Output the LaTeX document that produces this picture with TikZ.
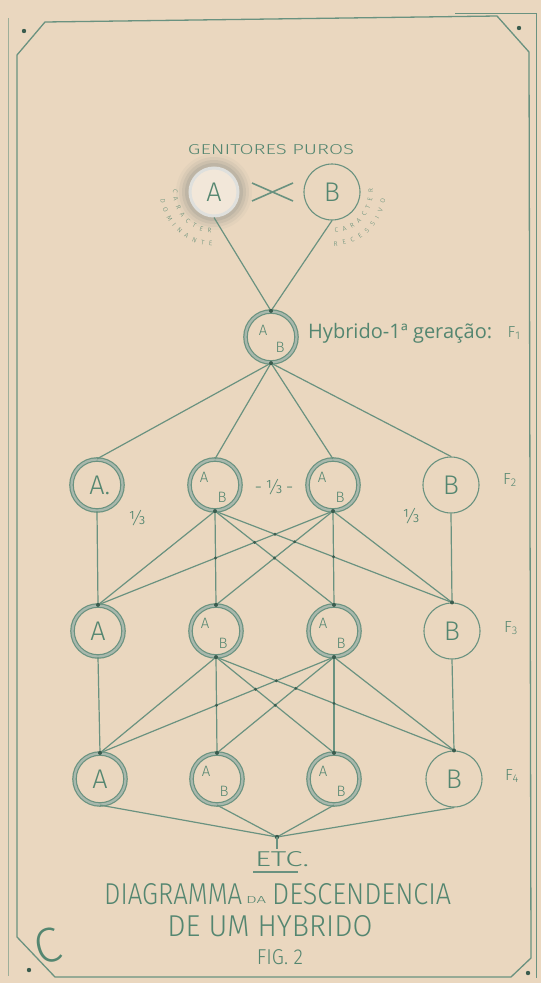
\documentclass[tikz,border=0pt]{standalone}
\usepackage{fontspec}
\setmainfont{Open Sans}
\newfontfamily\thinf{Fira Sans Light}
\usepackage{graphicx}
\usetikzlibrary{calc,decorations.text}
\definecolor{bg}{RGB}{234,215,191}
\definecolor{ln}{RGB}{106,146,128}
\definecolor{ink}{RGB}{84,134,112}
\definecolor{ringc}{RGB}{168,184,172}
\definecolor{dotc}{RGB}{58,92,78}
\definecolor{glow}{RGB}{150,152,142}
\newcommand\abnode[3]{%
  \node[ring] (#1) at (#2,#3) {};
  \node[small] (#1-a) at ($(#1)+(-11,8)$) {A};
  \node[small] (#1-b) at ($(#1)+(7,-12)$) {B};
}
\begin{document}
\begin{tikzpicture}[x=1pt,y=1pt,
  conn/.style={draw=ln, line width=1.2pt},
  frame/.style={draw=ln, line width=1.3pt, line join=round},
  ring/.style={circle, minimum size=51pt, inner sep=0pt, draw=ln, line width=1.2pt, double=ringc, double distance=2.2pt},
  plain/.style={circle, minimum size=56pt, inner sep=0pt, draw=ln, line width=1.1pt},
  big/.style={text=ink, font=\thinf\fontsize{27}{27}\selectfont, inner sep=0pt},
  small/.style={text=ink, font=\thinf\fontsize{15}{15}\selectfont, inner sep=0pt},
  lbl/.style={text=ink, inner sep=0pt, font=\thinf},
  frac/.style={text=ink, inner sep=0pt, font=\thinf\fontsize{19}{19}\selectfont},
  arctext/.style={decorate, decoration={text along path, text color=ink, text align=fit to path,
     text={|\thinf\fontsize{6.5}{6.5}\selectfont|#1}}},
]
\fill[bg] (0,0) rectangle (541,-983);
\useasboundingbox (0,0) rectangle (541,-983);

% frame
\draw[frame] (17,-55) -- (45,-22) -- (497,-16) -- (529,-52) -- (531,-958) -- (511,-977) -- (55,-977) -- (17,-937) -- cycle;
\draw[ln, line width=0.9pt] (455,-13) -- (536,-13) -- (536,-978);
\draw[ln!60!bg, line width=0.8pt] (8,-18) -- (8,-976);
\fill[dotc] (24,-31) circle[radius=2.2];
\fill[dotc] (519,-28) circle[radius=2.2];
\fill[dotc] (29,-970) circle[radius=2.2];
\fill[dotc] (528,-973) circle[radius=2.2];

% parents
\node[lbl] (gen) at (271,-150) {\resizebox{166pt}{10pt}{GENITORES PUROS}};
\foreach \r/\o in {38/0.08, 35/0.12, 32/0.18, 29/0.25}
  \fill[glow, opacity=\o] (214,-192) circle[radius=\r];
\node[circle, minimum size=48pt, inner sep=0pt, draw=white!70!glow, line width=3pt, fill=bg!60!white] (PA) at (214,-192) {};
\node[big] (PA-t) at (PA) {A};
\node[plain] (PB) at (332,-192) {};
\node[big] (PB-t) at (PB) {B};
\coordinate (x1) at (252,-183); \coordinate (x2) at (293,-201);
\coordinate (x3) at (252,-201); \coordinate (x4) at (293,-183);
\draw[conn, line width=1.6pt] (x1) -- (x2) (x3) -- (x4);

\path[arctext=CARACTER] ($(PA)+(176:41)$) arc[start angle=176, end angle=266, radius=41];
\path[arctext=DOMINANTE] ($(PA)+(188:54)$) arc[start angle=188, end angle=268, radius=54];
\path[arctext=CARACTER] ($(PB)+(274:41)$) arc[start angle=274, end angle=364, radius=41];
\path[arctext=RECESSIVO] ($(PB)+(272:54)$) arc[start angle=272, end angle=352, radius=54];

% hybrid F1
\node[ring] (H) at (271,-337) {};
\node[small] (H-a) at (263,-330) {A};
\node[small] (H-b) at (280,-347) {B};
\node[lbl, anchor=base west, font=\rmfamily] (HT) at (308,-338) {\resizebox{184pt}{!}{Hybrido-1ª geração:}};
\node[lbl, font=\thinf\fontsize{16}{16}\selectfont] (F1) at (514,-333) {F\textsubscript{1}};

\draw[conn] (PA.south) -- (H.north);
\draw[conn] (PB.south) -- (H.north);

% F2
\node[ring] (A2) at (97,-485) {};
\node[big] (A2-t) at (A2) {A\rlap{.}};
\abnode{AB2a}{215}{-485}
\abnode{AB2b}{333}{-485}
\node[plain] (B2) at (451,-485) {};
\node[big] (B2-t) at (B2) {B};
\node[lbl, font=\thinf\fontsize{16}{16}\selectfont] (F2) at (510,-480) {F\textsubscript{2}};
\node[frac] (t1) at (137,-518) {⅓};
\node[frac] (t2) at (274,-487) {-\,⅓\,-};
\node[frac] (t3) at (411,-516) {⅓};

% F3
\node[ring] (A3) at (98,-631) {};
\node[big] (A3-t) at (A3) {A};
\abnode{AB3a}{216}{-631}
\abnode{AB3b}{334}{-631}
\node[plain] (B3) at (452,-631) {};
\node[big] (B3-t) at (B3) {B};
\node[lbl, font=\thinf\fontsize{16}{16}\selectfont] (F3) at (511,-628) {F\textsubscript{3}};

% F4
\node[ring] (A4) at (100,-779) {};
\node[big] (A4-t) at (A4) {A};
\abnode{AB4a}{217}{-779}
\abnode{AB4b}{334}{-779}
\node[plain] (B4) at (454,-779) {};
\node[big] (B4-t) at (B4) {B};
\node[lbl, font=\thinf\fontsize{16}{16}\selectfont] (F4) at (512,-776) {F\textsubscript{4}};

% H -> F2
\foreach \n in {A2,AB2a,AB2b,B2} \draw[conn] (H.south) -- (\n.north);

% F2 -> F3 and F3 -> F4
\draw[conn] (A2.south) -- (A3.north);
\draw[conn] (B2.south) -- (B3.north);
\foreach \s in {AB2a,AB2b} \foreach \t in {A3,AB3a,AB3b,B3} \draw[conn] (\s.south) -- (\t.north);
\draw[conn] (A3.south) -- (A4.north);
\draw[conn] (B3.south) -- (B4.north);
\foreach \s in {AB3a,AB3b} \foreach \t in {A4,AB4a,AB4b,B4} \draw[conn] (\s.south) -- (\t.north);

% crossing knots
\foreach \p/\q in {2/3,3/4}{
  \fill[dotc] (intersection of AB\p a.south--B\q.north and AB\p b.south--A\q.north) circle[radius=1.6];
  \fill[dotc] (intersection of AB\p a.south--AB\q b.north and AB\p b.south--A\q.north) circle[radius=1.6];
  \fill[dotc] (intersection of AB\p a.south--B\q.north and AB\p b.south--AB\q a.north) circle[radius=1.6];
  \fill[dotc] (intersection of AB\p a.south--AB\q b.north and AB\p b.south--AB\q a.north) circle[radius=1.6];
  \fill[dotc] (intersection of AB\p a.south--AB\q a.north and AB\p b.south--A\q.north) circle[radius=1.6];
  \fill[dotc] (intersection of AB\p b.south--AB\q b.north and AB\p a.south--B\q.north) circle[radius=1.6];
}

% junction dots
\foreach \a in {H.north,H.south,AB2a.south,AB2b.south,A3.north,AB3a.north,AB3b.north,B3.north,AB3a.south,AB3b.south,A4.north,AB4a.north,AB4b.north,B4.north}
  \fill[dotc] (\a) circle[radius=2];

% ETC
\coordinate (J) at (277,-837);
\coordinate (Jb) at (277,-849);
\foreach \n in {A4,AB4a,AB4b,B4} \draw[conn] (\n.south) -- (J);
\fill[dotc] (J) circle[radius=2.2];
\draw[conn] (J) -- (Jb);
\coordinate (u1) at (253,-872); \coordinate (u2) at (298,-872);
\draw[conn] (u1) -- (u2);
\node[lbl, anchor=base] (etc) at (282,-866) {\resizebox{54pt}{15pt}{ETC.}};

% title
\node[lbl, anchor=base west] (t-a) at (104,-904) {\resizebox{138pt}{21pt}{DIAGRAMMA}};
\node[lbl, anchor=base west] (t-b) at (246,-903) {\resizebox{20pt}{7pt}{DA}};
\node[lbl, anchor=base west] (t-c) at (272,-904) {\resizebox{179pt}{21pt}{DESCENDENCIA}};
\node[lbl, anchor=base] (t-d) at (270,-936) {\resizebox{205pt}{21pt}{DE UM HYBRIDO}};
\node[lbl, anchor=base] (t-e) at (280,-964) {\resizebox{46pt}{15pt}{FIG. 2}};
\node[lbl, rotate=15] (mono) at (48,-946) {\resizebox{26pt}{34pt}{C}};
\end{tikzpicture}
\end{document}
